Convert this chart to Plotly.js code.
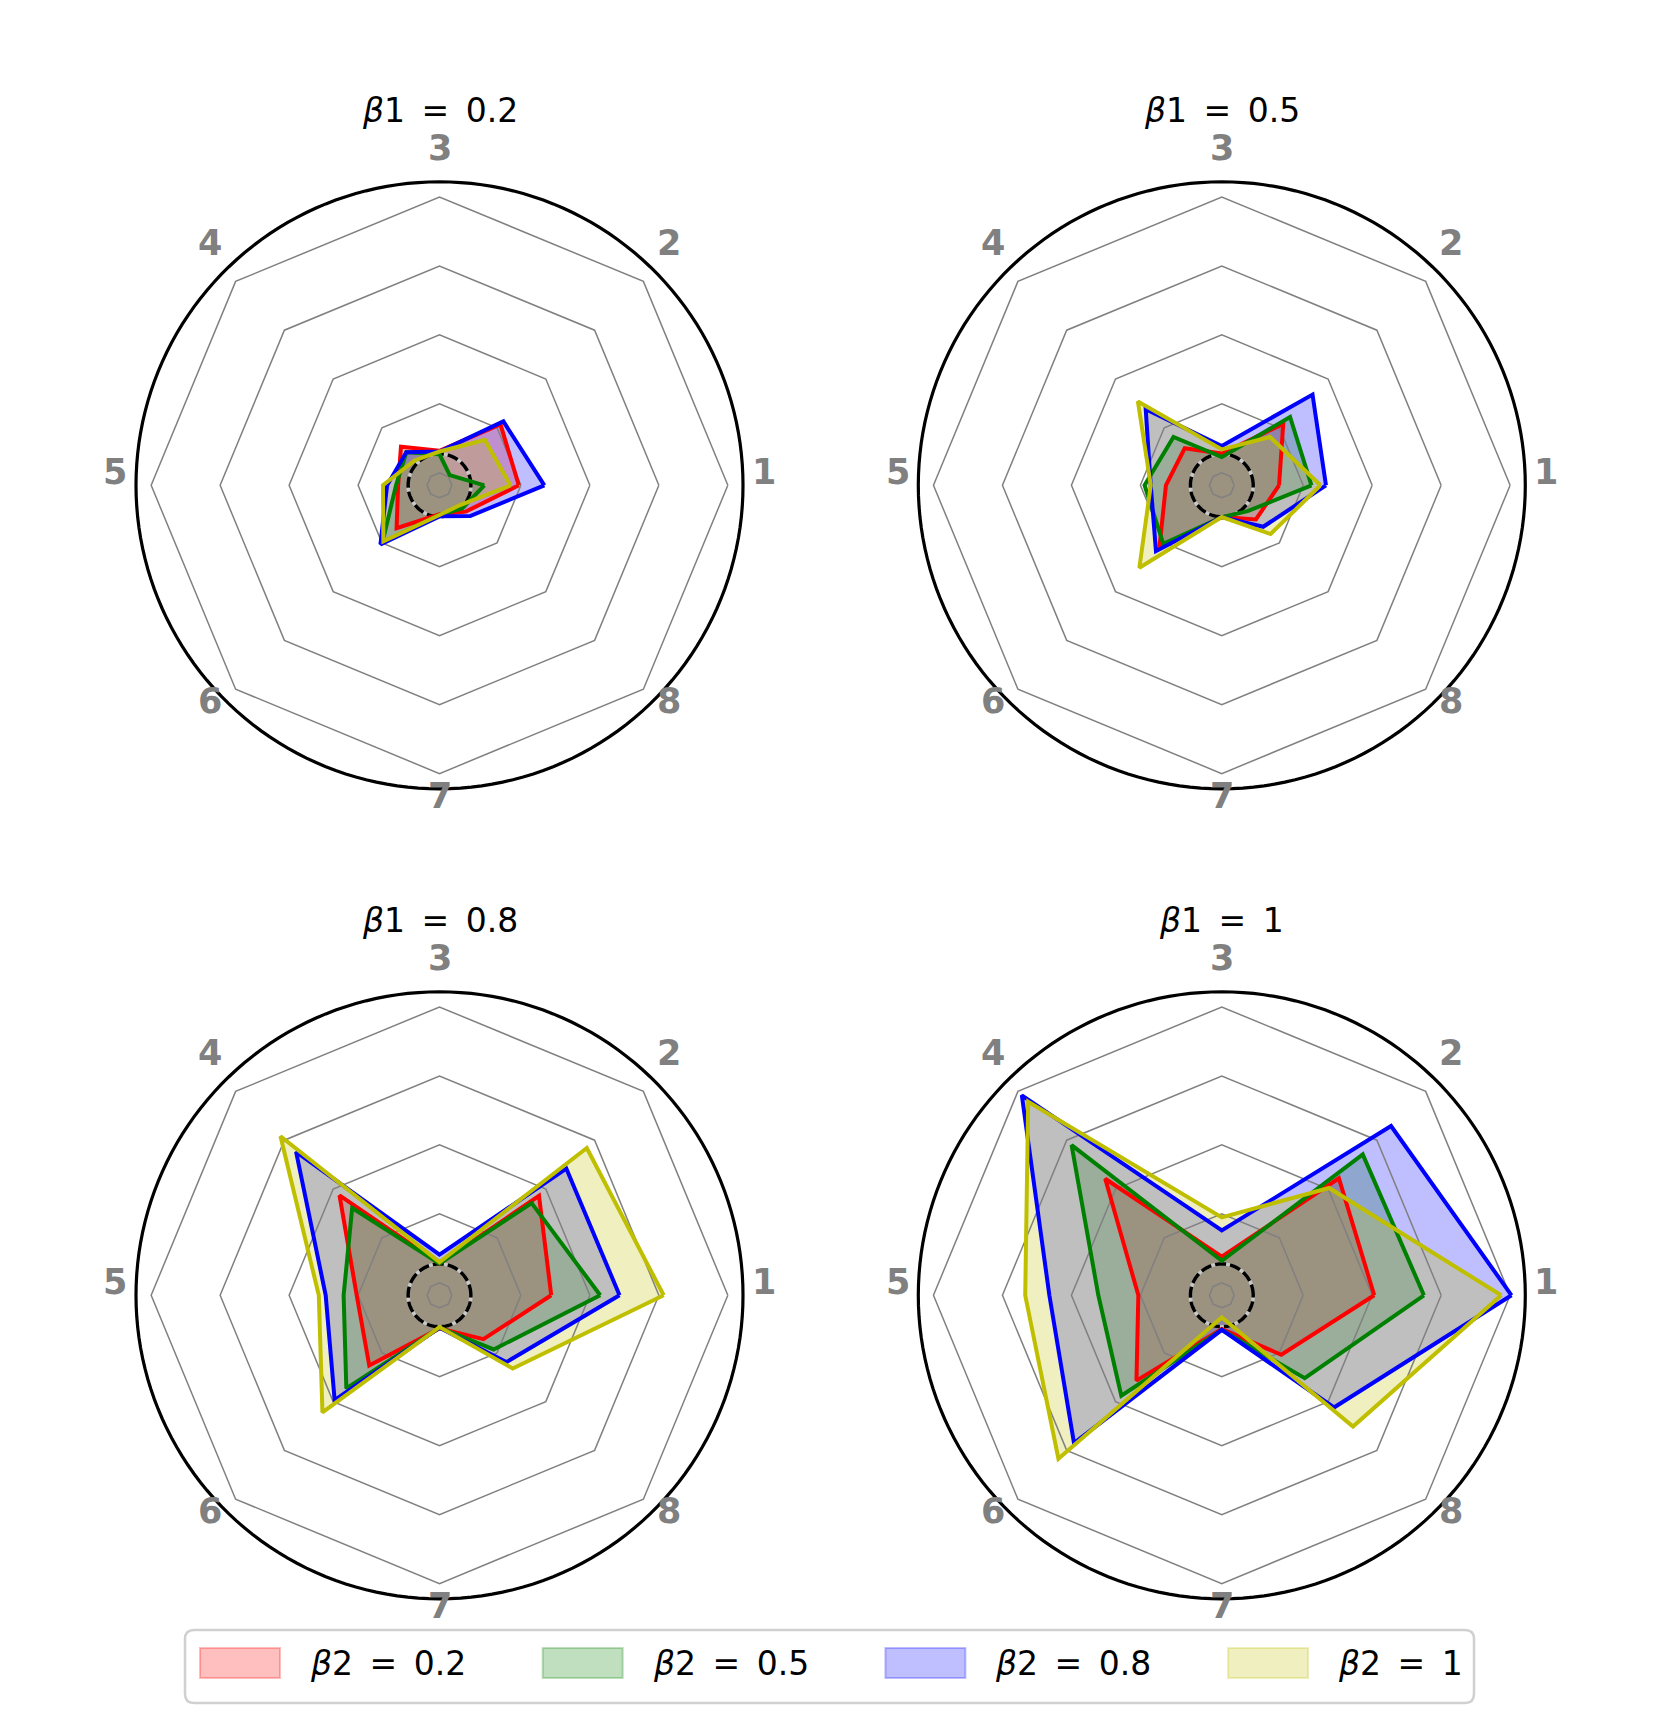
<!DOCTYPE html>
<html>
<head>
<meta charset="utf-8">
<script src="https://cdn.plot.ly/plotly-3.0.1.min.js"></script>
<style>html,body{margin:0;padding:0;background:#fff;}#chart{width:1661px;height:1716px;}</style>
</head>
<body>
<div id="chart"></div>
<script>
// ---------------- data ----------------
const axisLabels = ['1', '2', '3', '4', '5', '6', '7', '8'];
const beta1Labels = ['0.2', '0.5', '0.8', '1'];
const beta2Labels = ['0.2', '0.5', '0.8', '1'];
const ringVals = [0, 1, 2, 3, 4];
const baseline = 0.275;
const RMIN = -0.18, RMAX = 4.22;

// beta1 = 0.2
const b1_02_red    = [0.97, 1.07, 0.32, 0.61, 0.42, 0.70, 0.24, 0.36];
const b1_02_green  = [0.47, 0.03, 0.27, 0.50, 0.45, 0.99, 0.25, 0.29];
const b1_02_blue   = [1.34, 1.13, 0.31, 0.50, 0.58, 1.03, 0.27, 0.45];
const b1_02_yellow = [0.85, 0.75, 0.31, 0.33, 0.64, 0.97, 0.25, 0.23];
// beta1 = 0.5
const b1_05_red    = [0.65, 1.08, 0.28, 0.58, 0.63, 1.10, 0.28, 0.52];
const b1_05_green  = [1.12, 1.22, 0.23, 0.81, 0.94, 1.02, 0.28, 0.35];
const b1_05_blue   = [1.33, 1.68, 0.39, 1.38, 0.85, 1.17, 0.28, 0.67];
const b1_05_yellow = [1.25, 0.81, 0.34, 1.54, 0.85, 1.51, 0.28, 0.82];
// beta1 = 0.8
const b1_08_red    = [1.44, 1.86, 0.28, 1.87, 1.02, 1.26, 0.30, 0.72];
const b1_08_green  = [2.15, 1.71, 0.28, 1.61, 1.21, 1.73, 0.29, 0.93];
const b1_08_blue   = [2.43, 2.42, 0.41, 2.76, 1.47, 1.97, 0.29, 1.19];
const b1_08_yellow = [3.07, 2.84, 0.30, 3.08, 1.57, 2.22, 0.28, 1.32];
// beta1 = 1
const b1_10_red    = [2.03, 2.22, 0.38, 2.21, 1.03, 1.57, 0.31, 1.04];
const b1_10_green  = [2.75, 2.71, 0.32, 2.90, 1.61, 1.88, 0.32, 1.52];
const b1_10_blue   = [4.02, 3.29, 0.76, 3.92, 2.32, 2.85, 0.32, 2.12];
const b1_10_yellow = [3.87, 2.02, 0.95, 3.79, 2.67, 3.17, 0.14, 2.51];

const panels = [
  [b1_02_red, b1_02_green, b1_02_blue, b1_02_yellow],
  [b1_05_red, b1_05_green, b1_05_blue, b1_05_yellow],
  [b1_08_red, b1_08_green, b1_08_blue, b1_08_yellow],
  [b1_10_red, b1_10_green, b1_10_blue, b1_10_yellow]
];

// ---------------- styles ----------------
const lineColors = ['rgb(255,0,0)', 'rgb(0,128,0)', 'rgb(0,0,255)', 'rgb(191,191,0)'];
const fillColors = ['rgba(255,0,0,0.25)', 'rgba(0,128,0,0.25)', 'rgba(0,0,255,0.25)', 'rgba(191,191,0,0.25)'];

const W = 1661, H = 1716;
const px = x => x / W;
const py = y => 1 - y / H;
const R = 303.5;          // polar radius in px
const R2 = R + 14;        // back layer radius (keeps the spine circle unclipped)
const RMAX2 = RMIN + (RMAX - RMIN) * R2 / R;
const centers = [[439.5, 485.3], [1221.8, 485.3], [439.5, 1295.3], [1221.8, 1295.3]];
const labelDist = 324, labelLift = 13;
const SP = '\u2002';
// angle (deg) of each category axis, counter-clockwise from the right
const axisAngles = axisLabels.map((_, k) => k * 360 / axisLabels.length);

const traces = [];
const layout = {
  width: W, height: H,
  margin: {l: 0, r: 0, t: 0, b: 0},
  paper_bgcolor: '#ffffff',
  showlegend: false,
  font: {family: 'DejaVu Sans'},
  annotations: [],
  shapes: []
};

const circTheta = [];
for (let a = 0; a <= 360; a += 2) circTheta.push(a);

centers.forEach((c, i) => {
  const dom = {x: [px(c[0] - R), px(c[0] + R)], y: [py(c[1] + R), py(c[1] - R)]};
  const dom2 = {x: [px(c[0] - R2), px(c[0] + R2)], y: [py(c[1] + R2), py(c[1] - R2)]};
  const backId = i === 0 ? 'polar' : 'polar' + (i + 1);   // fills + circles
  const frontId = 'polar' + (i + 5);                       // grid + outlines
  layout[backId] = {
    domain: dom2,
    bgcolor: 'rgba(0,0,0,0)',
    angularaxis: {visible: false, rotation: 0, direction: 'counterclockwise'},
    radialaxis: {visible: false, range: [RMIN, RMAX2]}
  };
  layout[frontId] = {
    domain: dom,
    bgcolor: 'rgba(0,0,0,0)',
    gridshape: 'linear',
    angularaxis: {
      type: 'category', categoryorder: 'array', categoryarray: axisLabels,
      rotation: 0, direction: 'counterclockwise',
      showgrid: false, showline: false, ticks: '', showticklabels: false
    },
    radialaxis: {
      range: [RMIN, RMAX], tickvals: ringVals, showticklabels: false, ticks: '',
      showline: false, gridcolor: '#808080', gridwidth: 1.5
    }
  };
  // fills (under everything)
  panels[i].forEach((vals, j) => {
    traces.push({
      type: 'scatterpolar', subplot: backId, mode: 'lines',
      r: vals.concat([vals[0]]), theta: axisAngles.concat([axisAngles[0]]),
      fill: 'toself', fillcolor: fillColors[j],
      line: {color: 'rgba(0,0,0,0)', width: 0},
      name: 'β2 = ' + beta2Labels[j], hoverinfo: 'skip'
    });
  });
  // outer spine circle
  traces.push({
    type: 'scatterpolar', subplot: backId, mode: 'lines',
    r: circTheta.map(() => RMAX), theta: circTheta,
    line: {color: '#000000', width: 3.2}, hoverinfo: 'skip'
  });
  // baseline dashed circle
  traces.push({
    type: 'scatterpolar', subplot: backId, mode: 'lines',
    r: circTheta.map(() => baseline), theta: circTheta,
    line: {color: '#c8c8c8', width: 3.5}, hoverinfo: 'skip'
  });
  traces.push({
    type: 'scatterpolar', subplot: backId, mode: 'lines',
    r: circTheta.map(() => baseline), theta: circTheta,
    line: {color: '#000000', width: 3.5, dash: '11px,4px'}, hoverinfo: 'skip'
  });
  // outlines (above grid)
  panels[i].forEach((vals, j) => {
    traces.push({
      type: 'scatterpolar', subplot: frontId, mode: 'lines',
      r: vals.concat([vals[0]]), theta: axisLabels.concat([axisLabels[0]]),
      line: {color: lineColors[j], width: 4},
      name: 'β2 = ' + beta2Labels[j], hoverinfo: 'skip'
    });
  });
  // angular axis labels
  axisLabels.forEach((lab, k) => {
    const a = axisAngles[k] * Math.PI / 180;
    layout.annotations.push({
      xref: 'paper', yref: 'paper',
      x: px(c[0] + labelDist * Math.cos(a)),
      y: py(c[1] - labelLift - labelDist * Math.sin(a)),
      xanchor: 'center', yanchor: 'middle', showarrow: false,
      text: lab,
      font: {family: 'DejaVu Sans', size: 35, color: '#808080', weight: 'bold'}
    });
  });
  // panel title
  layout.annotations.push({
    xref: 'paper', yref: 'paper', x: px(c[0]), y: py(c[1] - 375),
    xanchor: 'center', yanchor: 'middle', showarrow: false,
    text: '<i>β</i>1' + SP + '=' + SP + beta1Labels[i],
    font: {family: 'DejaVu Sans', size: 33, color: '#000000'}
  });
});

// ---------------- legend (drawn as shapes + text) ----------------
const lx0 = 185, lx1 = 1474, ly0 = 1630, ly1 = 1703, cr = 9;
const P = (x, y) => px(x) + ',' + py(y);
layout.shapes.push({
  type: 'path', xref: 'paper', yref: 'paper',
  path: 'M' + P(lx0 + cr, ly0) + ' L' + P(lx1 - cr, ly0) + ' Q' + P(lx1, ly0) + ' ' + P(lx1, ly0 + cr) +
        ' L' + P(lx1, ly1 - cr) + ' Q' + P(lx1, ly1) + ' ' + P(lx1 - cr, ly1) +
        ' L' + P(lx0 + cr, ly1) + ' Q' + P(lx0, ly1) + ' ' + P(lx0, ly1 - cr) +
        ' L' + P(lx0, ly0 + cr) + ' Q' + P(lx0, ly0) + ' ' + P(lx0 + cr, ly0) + ' Z',
  fillcolor: '#ffffff', line: {color: '#d0d0d0', width: 2.5}
});
const legendStep = 342.7, patchX0 = 200, patchW = 80, patchY0 = 1648, patchH = 30;
beta2Labels.forEach((lab, j) => {
  const x0 = patchX0 + j * legendStep;
  layout.shapes.push({
    type: 'rect', xref: 'paper', yref: 'paper',
    x0: px(x0), x1: px(x0 + patchW), y0: py(patchY0 + patchH), y1: py(patchY0),
    fillcolor: fillColors[j], line: {color: fillColors[j], width: 2}
  });
  layout.annotations.push({
    xref: 'paper', yref: 'paper', x: px(x0 + 108), y: py(patchY0 + patchH / 2),
    xanchor: 'left', yanchor: 'middle', showarrow: false,
    text: '<i>β</i>2' + SP + '=' + SP + lab,
    font: {family: 'DejaVu Sans', size: 33, color: '#000000'}
  });
});

Plotly.newPlot('chart', traces, layout, {displayModeBar: false, staticPlot: true});
</script>
</body>
</html>
